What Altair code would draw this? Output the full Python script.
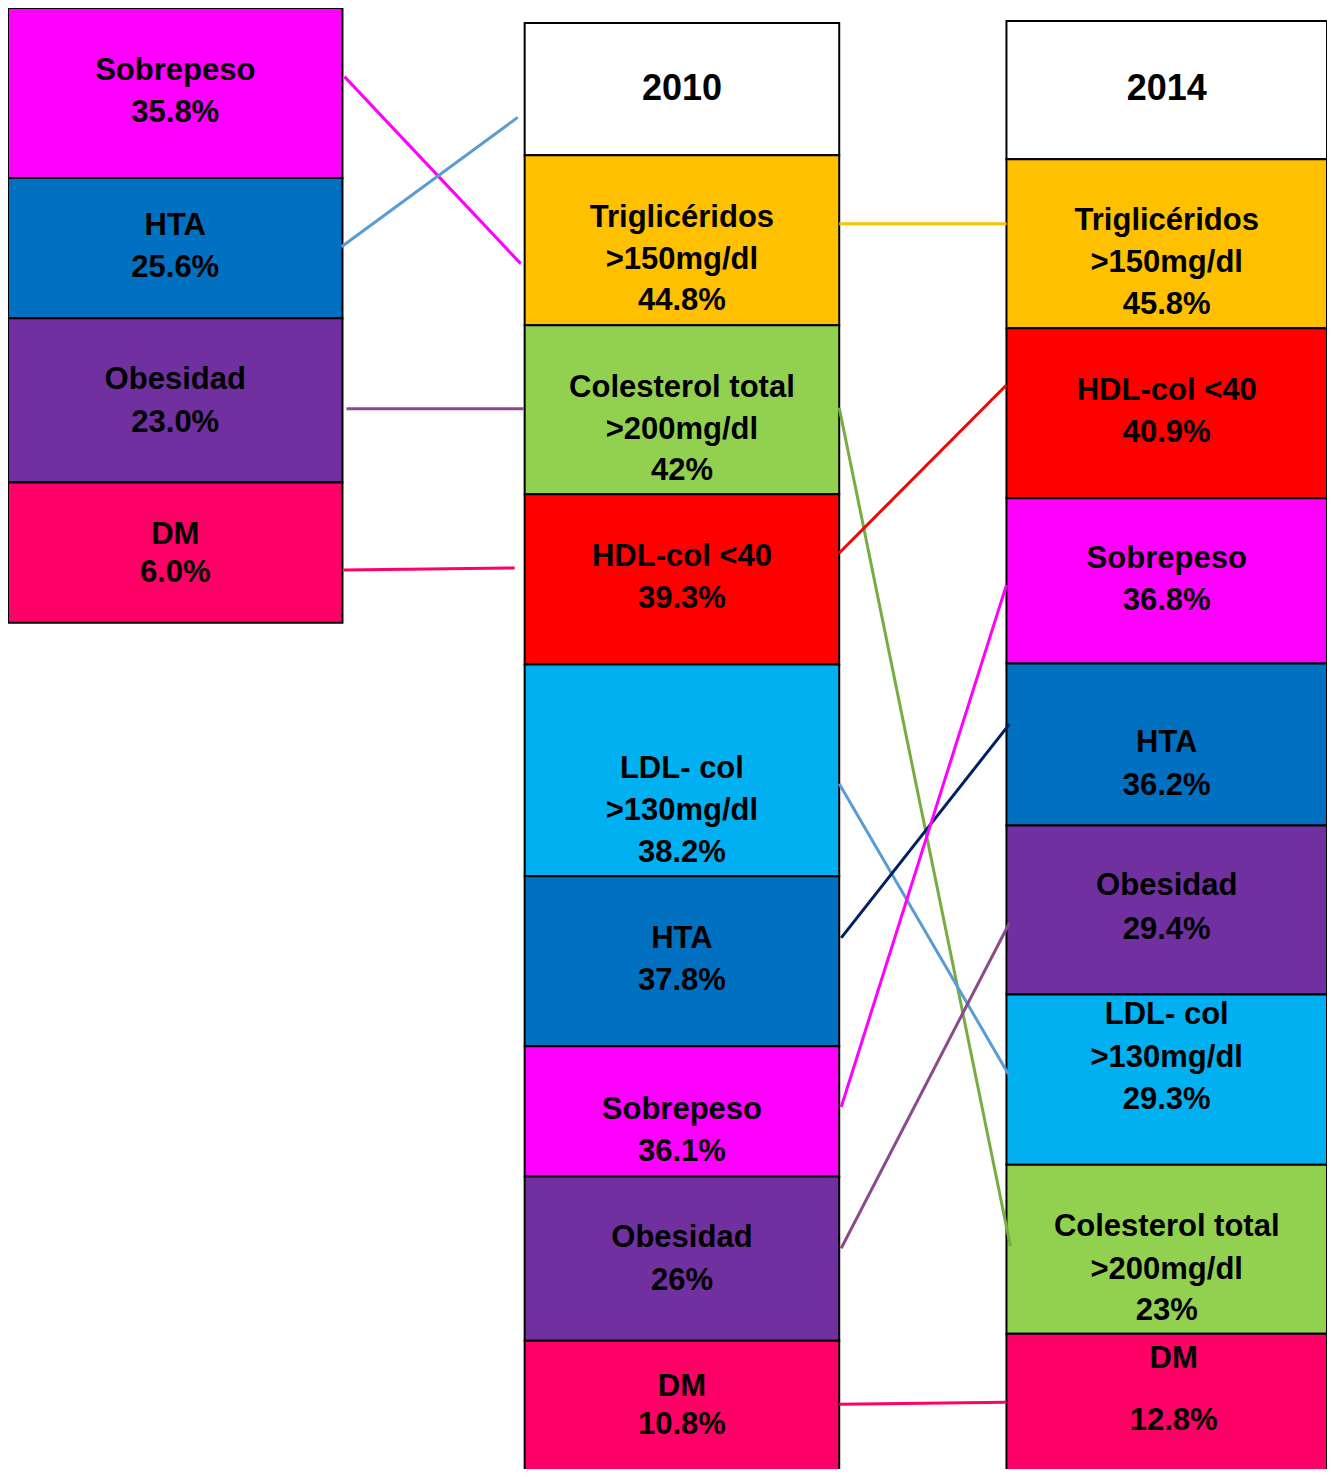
import altair as alt
import pandas as pd

# ---------------- data ----------------
left_names = ["Sobrepeso", "HTA", "Obesidad", "DM"]
left_vals = ["35.8%", "25.6%", "23.0%", "6.0%"]

mid_header = "2010"
mid_names = ["Triglicéridos\n>150mg/dl", "Colesterol total\n>200mg/dl", "HDL-col <40",
             "LDL- col\n>130mg/dl", "HTA", "Sobrepeso", "Obesidad", "DM"]
mid_vals = ["44.8%", "42%", "39.3%", "38.2%", "37.8%", "36.1%", "26%", "10.8%"]

right_header = "2014"
right_names = ["Triglicéridos\n>150mg/dl", "HDL-col <40", "Sobrepeso", "HTA", "Obesidad",
               "LDL- col\n>130mg/dl", "Colesterol total\n>200mg/dl", "DM"]
right_vals = ["45.8%", "40.9%", "36.8%", "36.2%", "29.4%", "29.3%", "23%", "12.8%"]

# ---------------- layout (pixel space of the picture) ----------------
left_x = (8, 344)
mid_x = (527, 843)
right_x = (1011, 1333)
left_edges = [8, 179, 320, 485, 626]
mid_edges = [23, 156, 327, 497, 668, 881, 1052, 1183, 1348, 1495]
right_edges = [21, 160, 330, 501, 667, 830, 1000, 1171, 1341, 1495]

left_name_y = [71, 227, 382, 538]
left_val_y = [114, 269, 425, 576]
mid_name_y = [219, 390, 560, 773, 944, 1116, 1245, 1395]
mid_val_y = [303, 474, 602, 858, 986, 1158, 1288, 1433]
right_name_y = [222, 393, 562, 747, 891, 1021, 1234, 1366]
right_val_y = [307, 435, 604, 790, 935, 1106, 1318, 1429]
header_y = 89
line_gap = 42.5

fill = {
    "Sobrepeso": "#FF00FF", "HTA": "#0070C0", "Obesidad": "#7030A0", "DM": "#FF0066",
    "Triglicéridos": "#FFC000", "Colesterol total": "#92D050", "HDL-col <40": "#FF0000",
    "LDL- col": "#00B0F0", "header": "#FFFFFF",
}

def key(name):
    return name.split("\n")[0]

boxes = []
texts = []

def add_column(xr, edges, names, vals, name_ys, val_ys, header=None, xc=None):
    cx = (xr[0] + xr[1]) / 2 if xc is None else xc
    start = 0
    if header is not None:
        boxes.append(dict(x=xr[0], x2=xr[1], y=edges[0], y2=edges[1], color=fill["header"]))
        texts.append(dict(tx=cx, ty=header_y, t=header, size=36))
        start = 1
    for i, (n, v) in enumerate(zip(names, vals)):
        boxes.append(dict(x=xr[0], x2=xr[1], y=edges[start + i], y2=edges[start + i + 1],
                          color=fill[key(n)]))
        for j, line in enumerate(n.split("\n")):
            texts.append(dict(tx=cx, ty=name_ys[i] + j * line_gap, t=line, size=31))
        texts.append(dict(tx=cx, ty=val_ys[i], t=v, size=31))

add_column(left_x, left_edges, left_names, left_vals, left_name_y, left_val_y, xc=176)
add_column(mid_x, mid_edges, mid_names, mid_vals, mid_name_y, mid_val_y, header=mid_header, xc=685)
add_column(right_x, right_edges, right_names, right_vals, right_name_y, right_val_y,
           header=right_header, xc=1172)
# DM in 2014 is slightly offset to the right
for t in texts[-2:]:
    t["tx"] = 1179

links = pd.DataFrame([
    dict(x=346, y=77, x2=523, y2=265, c="#FF00FF"),
    dict(x=343, y=248, x2=520, y2=118, c="#5B9BD5"),
    dict(x=348, y=411, x2=526, y2=411, c="#8C4A8C"),
    dict(x=345, y=573, x2=517, y2=571, c="#FF0066"),
    dict(x=843, y=225, x2=1011, y2=225, c="#FFC000"),
    dict(x=843, y=410, x2=1015, y2=1253, c="#77AC43"),
    dict(x=843, y=556, x2=1011, y2=387, c="#FF0000"),
    dict(x=843, y=788, x2=1013, y2=1080, c="#5B9BD5"),
    dict(x=845, y=943, x2=1014, y2=728, c="#002060"),
    dict(x=845, y=1113, x2=1011, y2=588, c="#FF00FF"),
    dict(x=845, y=1255, x2=1014, y2=928, c="#8C4A8C"),
    dict(x=843, y=1412, x2=1011, y2=1410, c="#FF0066"),
])

boxes_df = pd.DataFrame(boxes)
texts_df = pd.DataFrame(texts)

W, H = 1319, 1461
xs = alt.Scale(domain=[8, 1333], nice=False, zero=False)
ys = alt.Scale(domain=[8, 1477], nice=False, zero=False, reverse=True)

rects = alt.Chart(boxes_df).mark_rect(stroke="black", strokeWidth=2, clip=True).encode(
    x=alt.X("x:Q", scale=xs, axis=None),
    x2="x2:Q",
    y=alt.Y("y:Q", scale=ys, axis=None),
    y2="y2:Q",
    fill=alt.Fill("color:N", scale=None),
)

lines = alt.Chart(links).mark_rule(strokeWidth=3).encode(
    x=alt.X("x:Q", scale=xs, axis=None),
    x2="x2:Q",
    y=alt.Y("y:Q", scale=ys, axis=None),
    y2="y2:Q",
    color=alt.Color("c:N", scale=None),
)

labels = alt.Chart(texts_df).mark_text(
    font="Liberation Sans", fontWeight="bold", color="black", baseline="middle", align="center"
).encode(
    x=alt.X("tx:Q", scale=xs, axis=None),
    y=alt.Y("ty:Q", scale=ys, axis=None),
    text="t:N",
    size=alt.Size("size:Q", scale=None, legend=None),
)

chart = alt.layer(rects, lines, labels).properties(
    width=W, height=H, padding=0, background="white",
    autosize=alt.AutoSizeParams(type="none")
).configure_view(stroke=None, strokeWidth=0)

chart.save("out.html", embed_options={"renderer": "svg", "actions": False})
